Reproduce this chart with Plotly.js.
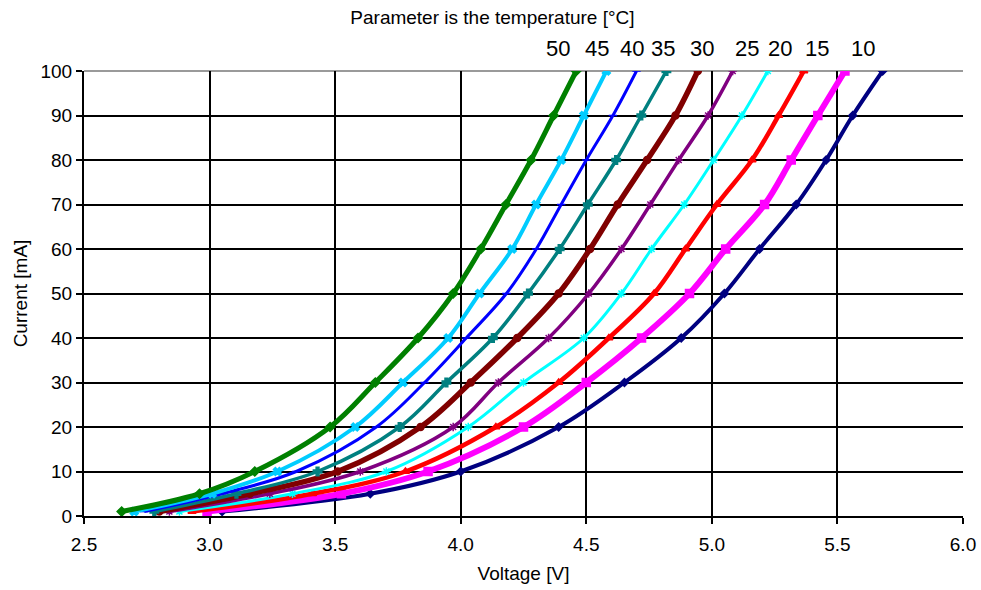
<!DOCTYPE html>
<html>
<head>
<meta charset="utf-8">
<script src="https://cdn.plot.ly/plotly-3.0.1.min.js"></script>
<style>html,body{margin:0;padding:0;background:#fff;}#chart{width:981px;height:590px;}</style>
</head>
<body>
<div id="chart"></div>
<script>
// Current values (mA) at which voltages were read
const current = [1, 5, 10, 20, 30, 40, 50, 60, 70, 80, 90, 100];

// Voltage (V) per series, one per temperature curve
const v50 = [2.65, 2.96, 3.18, 3.48, 3.66, 3.83, 3.97, 4.08, 4.18, 4.28, 4.37, 4.46];
const v45 = [2.70, 3.01, 3.27, 3.58, 3.77, 3.95, 4.075, 4.205, 4.30, 4.40, 4.49, 4.58];
const v40 = [2.74, 3.05, 3.345, 3.664, 3.856, 4.022, 4.182, 4.301, 4.40, 4.50, 4.606, 4.70];
const v35 = [2.78, 3.107, 3.43, 3.757, 3.943, 4.128, 4.268, 4.394, 4.506, 4.619, 4.719, 4.819];
const v30 = [2.80, 3.16, 3.51, 3.84, 4.04, 4.225, 4.39, 4.515, 4.625, 4.742, 4.855, 4.944];
const v25 = [2.84, 3.24, 3.60, 3.97, 4.15, 4.35, 4.51, 4.64, 4.755, 4.868, 4.985, 5.083];
const v20 = [2.88, 3.33, 3.704, 4.03, 4.25, 4.49, 4.64, 4.76, 4.89, 5.007, 5.12, 5.223];
const v15 = [2.93, 3.41, 3.78, 4.14, 4.39, 4.59, 4.77, 4.895, 5.02, 5.16, 5.266, 5.366];
const v10 = [2.99, 3.525, 3.87, 4.25, 4.50, 4.72, 4.911, 5.055, 5.21, 5.316, 5.422, 5.53];
const v05 = [3.05, 3.64, 4.00, 4.39, 4.652, 4.878, 5.05, 5.19, 5.336, 5.455, 5.561, 5.68];

const seriesNames = ['50', '45', '40', '35', '30', '25', '20', '15', '10', '5'];
const seriesV = [v50, v45, v40, v35, v30, v25, v20, v15, v10, v05];

// Labels written above the plot
const tempLabels = ['50', '45', '40', '35', '30', '25', '20', '15', '10'];

const xTicks = [2.5, 3.0, 3.5, 4.0, 4.5, 5.0, 5.5, 6.0];
const yTicks = [0, 10, 20, 30, 40, 50, 60, 70, 80, 90, 100];

// styles
const colors = ['#008000', '#00CCFF', '#0000FF', '#008080', '#800000', '#800080', '#00FFFF', '#FF0000', '#FF00FF', '#000080'];
const symbols = ['diamond', 'x', 'line-ew-open', 'cross', 'circle', 'asterisk-open', 'asterisk-open', 'triangle-up', 'square', 'diamond'];
const lineWidths = [5, 4, 3, 3.5, 5.5, 3.5, 3, 4.5, 6, 4];
const markerSizes = [7, 7, 6, 7, 7, 7, 7, 7, 8, 6];
const labelPx = [558, 597, 632, 663, 702, 747, 780, 817, 863];

const W = 981, H = 590;
const L = 84, R = 18, T = 71, B = 74;

const traces = seriesV.map((v, i) => ({
  type: 'scatter',
  mode: 'lines+markers',
  name: seriesNames[i],
  x: v,
  y: current,
  line: {color: colors[i], width: lineWidths[i], shape: 'spline', smoothing: 1.0},
  marker: {color: colors[i], symbol: symbols[i], size: markerSizes[i], line: {color: colors[i], width: 1.5}},
  showlegend: false,
  hoverinfo: 'x+y'
})).reverse();

const font = 'Liberation Sans, Arial, sans-serif';

const annotations = tempLabels.map((t, i) => ({
  text: t,
  xref: 'paper', yref: 'paper',
  x: (labelPx[i] - L) / (W - L - R),
  y: (H - B - 49) / (H - T - B),
  xanchor: 'center', yanchor: 'middle',
  showarrow: false,
  font: {family: font, size: 22, color: '#000'}
}));

const layout = {
  width: W, height: H,
  margin: {l: L, r: R, t: T, b: B, pad: 0},
  paper_bgcolor: '#fff',
  plot_bgcolor: '#fff',
  font: {family: font, size: 19, color: '#000'},
  title: {
    text: 'Parameter is the temperature [°C]',
    font: {family: font, size: 19, color: '#000'},
    x: 0.502, xref: 'container', xanchor: 'center',
    y: 1 - 17 / H, yref: 'container', yanchor: 'middle'
  },
  xaxis: {
    range: [2.5, 6.0],
    tickvals: xTicks,
    ticktext: xTicks.map(v => v.toFixed(1)),
    showgrid: true, gridcolor: '#000', gridwidth: 2,
    showline: true, linecolor: '#000', linewidth: 2,
    ticks: 'outside', ticklen: 6, tickcolor: '#000', tickwidth: 2,
    ticklabelstandoff: 4,
    zeroline: false,
    tickfont: {family: font, size: 19, color: '#000'},
    title: {text: 'Voltage [V]', font: {family: font, size: 19, color: '#000'}, standoff: 13},
    automargin: false
  },
  yaxis: {
    range: [0, 100],
    tickvals: yTicks,
    showgrid: true, gridcolor: '#000', gridwidth: 2,
    showline: true, linecolor: '#000', linewidth: 2,
    ticks: 'outside', ticklen: 6, tickcolor: '#000', tickwidth: 2,
    zeroline: false,
    tickfont: {family: font, size: 19, color: '#000'},
    title: {text: 'Current [mA]', font: {family: font, size: 19, color: '#000'}, standoff: 8},
    automargin: false
  },
  shapes: [
    {type: 'line', xref: 'paper', yref: 'paper', x0: 0, x1: 1, y0: 1, y1: 1, line: {color: '#9a9a9a', width: 2}, layer: 'below'}
  ],
  annotations: annotations
};

Plotly.newPlot('chart', traces, layout, {displayModeBar: false, staticPlot: true});
</script>
</body>
</html>
